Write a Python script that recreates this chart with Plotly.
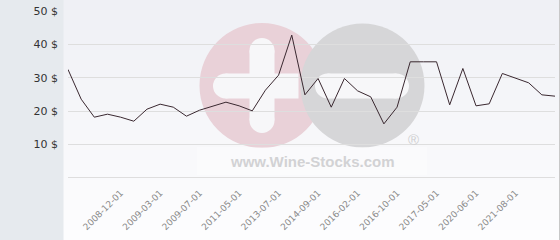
import plotly.graph_objects as go

# ---- data ----
prices = [32.5, 23.6, 18.2, 19.1, 18.2, 17.0, 20.6, 22.1, 21.2, 18.5,
          20.3, 21.6, 22.7, 21.6, 20.1, 26.3, 30.8, 42.8, 24.9, 29.8,
          21.2, 29.8, 26.1, 24.3, 16.2, 21.2, 34.8, 34.8, 34.8, 21.9,
          32.8, 21.6, 22.2, 31.3, 29.8, 28.5, 24.9, 24.5]
x_idx = list(range(len(prices)))
tick_labels = ["2008-12-01", "2009-03-01", "2009-07-01", "2011-05-01", "2013-07-01",
               "2014-09-01", "2016-02-01", "2016-10-01", "2017-05-01", "2020-06-01",
               "2021-08-01"]
tick_pos = list(range(4, 4 + 3 * len(tick_labels), 3))
y_vals = [0, 10, 20, 30, 40, 50]
y_text = ["", "10 $", "20 $", "30 $", "40 $", "50 $"]

# ---- layout geometry (pixels) ----
W_IMG, H_IMG = 560, 240
L, R, T, B = 68, 555, 11, 178
PW, PH = R - L, B - T

def px(x):
    return (x - L) / PW

def py(y):
    return (B - y) / PH

shapes = []
# gradient background
n = 24
top = (239, 240, 245)
bot = (253, 253, 254)
for i in range(n):
    f = i / (n - 1)
    c = tuple(round(top[k] + (bot[k] - top[k]) * f) for k in range(3))
    y0 = i * H_IMG / n
    y1 = (i + 1) * H_IMG / n + 0.5
    shapes.append(dict(type="rect", xref="paper", yref="paper", layer="below",
                       x0=px(63), x1=px(560), y0=py(y1), y1=py(y0),
                       fillcolor="rgb(%d,%d,%d)" % c, line=dict(width=0)))
# left panel
shapes.append(dict(type="rect", xref="paper", yref="paper", layer="below",
                   x0=px(0), x1=px(63.5), y0=py(240), y1=py(0),
                   fillcolor="#e6eaee", line=dict(width=0)))
# right border
shapes.append(dict(type="line", xref="paper", yref="paper", layer="above",
                   x0=px(559.5), x1=px(559.5), y0=py(240), y1=py(0),
                   line=dict(color="#c8c8c8", width=1)))

# watermark
def circ(cx, cy, r, color):
    return dict(type="circle", xref="paper", yref="paper", layer="below",
                x0=px(cx - r), x1=px(cx + r), y0=py(cy + r), y1=py(cy - r),
                fillcolor=color, line=dict(width=0))

def rect(x0, y0, x1, y1, color, opacity=1):
    return dict(type="rect", xref="paper", yref="paper", layer="below",
                x0=px(x0), x1=px(x1), y0=py(y1), y1=py(y0), opacity=opacity,
                fillcolor=color, line=dict(width=0))

pink = "#e9d1d8"
grey = "#d6d6d8"
hole = "#f7f7f9"
shapes.append(circ(262, 85.5, 62.5, pink))
shapes.append(circ(362.5, 85.5, 62, grey))
# plus
bw = 25
shapes.append(rect(262 - bw / 2, 38 + bw / 2, 262 + bw / 2, 133 - bw / 2, hole))
shapes.append(circ(262, 38 + bw / 2, bw / 2, hole))
shapes.append(circ(262, 133 - bw / 2, bw / 2, hole))
shapes.append(rect(213 + bw / 2, 86 - bw / 2, 311 - bw / 2, 86 + bw / 2, hole))
shapes.append(circ(213 + bw / 2, 86, bw / 2, hole))
# minus
shapes.append(rect(315 + bw / 2, 86 - bw / 2, 409 - bw / 2, 86 + bw / 2, hole))
shapes.append(circ(315 + bw / 2, 86, bw / 2, hole))
shapes.append(circ(409 - bw / 2, 86, bw / 2, hole))
# faint box behind text
shapes.append(rect(197, 147, 427, 175, "#ffffff", 0.35))

annotations = [
    dict(text="<b>www.Wine-Stocks.com</b>", xref="paper", yref="paper",
         x=px(312.5), y=py(161), showarrow=False,
         font=dict(family="Liberation Sans, Arial", size=15, color="#d2d2d4"),
         xanchor="center", yanchor="middle"),
    dict(text="®", xref="paper", yref="paper", x=px(413), y=py(139), showarrow=False,
         font=dict(family="Liberation Sans, Arial", size=15, color="#cfcfd1"),
         xanchor="center", yanchor="middle"),
]

fig = go.Figure()
fig.add_trace(go.Scatter(x=x_idx, y=prices, mode="lines",
                         line=dict(color="#3a2830", width=1), hoverinfo="skip"))

fig.update_layout(
    width=W_IMG, height=H_IMG,
    margin=dict(l=L, r=W_IMG - R, t=T, b=H_IMG - B, pad=0),
    paper_bgcolor="#ffffff", plot_bgcolor="rgba(0,0,0,0)",
    showlegend=False,
    shapes=shapes, annotations=annotations,
    xaxis=dict(range=[0, len(prices) - 1], tickmode="array", tickvals=tick_pos,
               ticktext=tick_labels, tickangle=-45, showgrid=False, zeroline=False,
               showline=False, ticks="", ticklabelstandoff=7,
               tickfont=dict(family="DejaVu Sans", size=9, color="#8a8a8a")),
    yaxis=dict(range=[-0.03, 50.03], tickmode="array", tickvals=y_vals, ticktext=y_text,
               showgrid=True, gridcolor="#dedede", gridwidth=1,
               zeroline=True, zerolinecolor="#dedede", zerolinewidth=1,
               showline=False, ticks="", ticklabelstandoff=9,
               tickfont=dict(family="DejaVu Sans", size=11, color="#333333")),
)

fig.write_html("out.html")
